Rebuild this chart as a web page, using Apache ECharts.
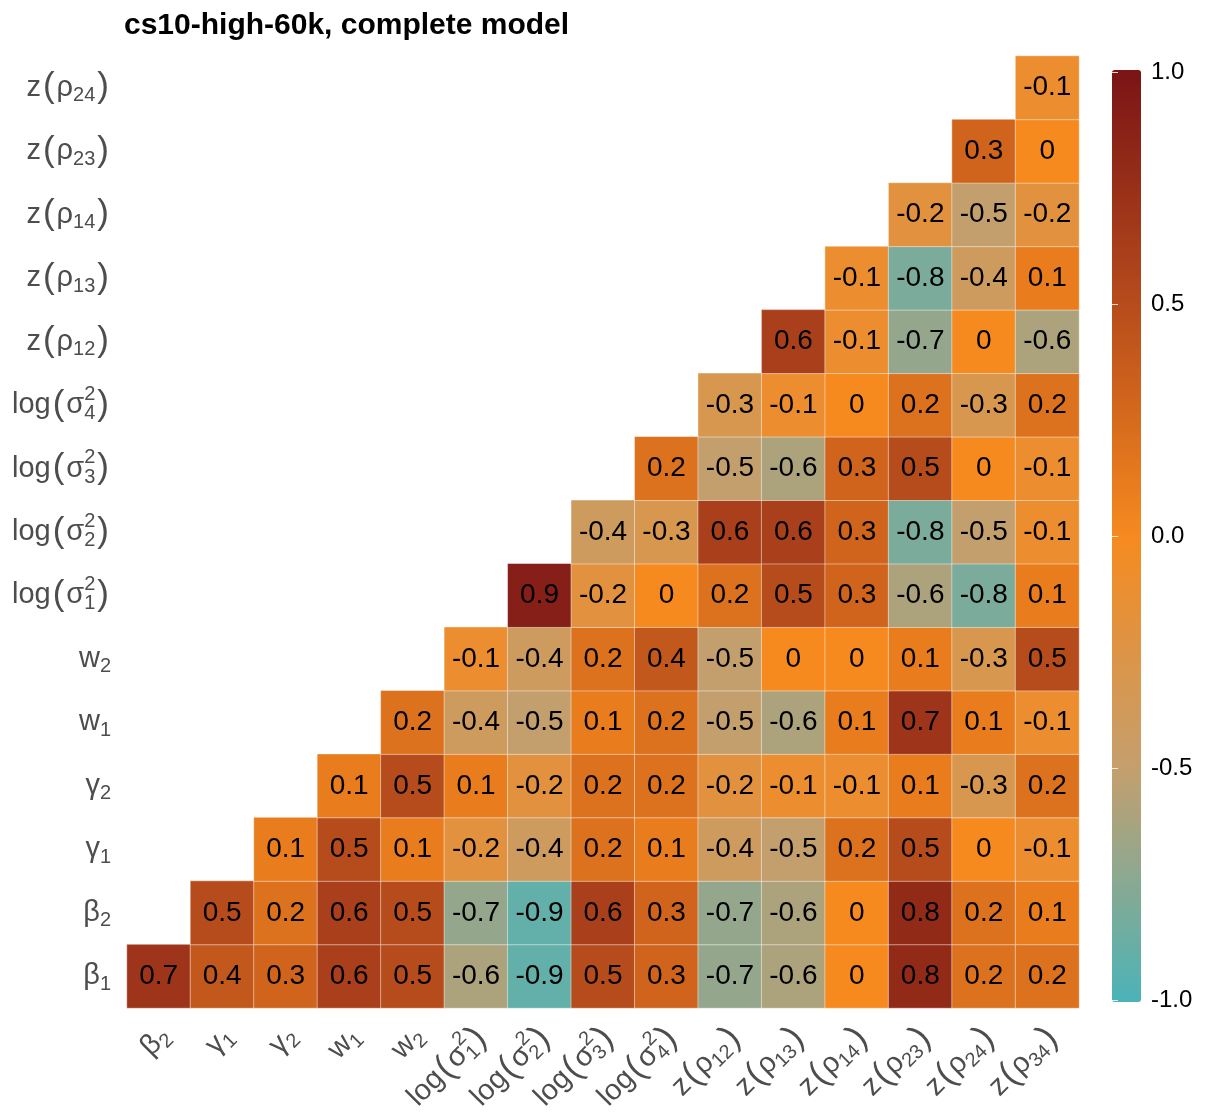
<!DOCTYPE html>
<html>
<head>
<meta charset="utf-8">
<script src="https://cdn.jsdelivr.net/npm/echarts@6/dist/echarts.min.js"></script>
<style>
  html, body { margin: 0; padding: 0; background: #fff; }
  #main { width: 1206px; height: 1118px; }
</style>
</head>
<body>
<div id="main"></div>
<script>
// columns (left to right) and rows (bottom to top)
var xCats = ['β2', 'γ1', 'γ2', 'w1', 'w2', 'log(σ1²)', 'log(σ2²)', 'log(σ3²)', 'log(σ4²)',
  'z(ρ12)', 'z(ρ13)', 'z(ρ14)', 'z(ρ23)', 'z(ρ24)', 'z(ρ34)'];
var yCats = ['β1', 'β2', 'γ1', 'γ2', 'w1', 'w2', 'log(σ1²)', 'log(σ2²)', 'log(σ3²)', 'log(σ4²)',
  'z(ρ12)', 'z(ρ13)', 'z(ρ14)', 'z(ρ23)', 'z(ρ24)'];

// correlations, one row per y category, starting at the diagonal column
var rowBeta1  = [0.7, 0.4, 0.3, 0.6, 0.5, -0.6, -0.9, 0.5, 0.3, -0.7, -0.6, 0, 0.8, 0.2, 0.2];
var rowBeta2  = [0.5, 0.2, 0.6, 0.5, -0.7, -0.9, 0.6, 0.3, -0.7, -0.6, 0, 0.8, 0.2, 0.1];
var rowGamma1 = [0.1, 0.5, 0.1, -0.2, -0.4, 0.2, 0.1, -0.4, -0.5, 0.2, 0.5, 0, -0.1];
var rowGamma2 = [0.1, 0.5, 0.1, -0.2, 0.2, 0.2, -0.2, -0.1, -0.1, 0.1, -0.3, 0.2];
var rowW1     = [0.2, -0.4, -0.5, 0.1, 0.2, -0.5, -0.6, 0.1, 0.7, 0.1, -0.1];
var rowW2     = [-0.1, -0.4, 0.2, 0.4, -0.5, 0, 0, 0.1, -0.3, 0.5];
var rowLogS1  = [0.9, -0.2, 0, 0.2, 0.5, 0.3, -0.6, -0.8, 0.1];
var rowLogS2  = [-0.4, -0.3, 0.6, 0.6, 0.3, -0.8, -0.5, -0.1];
var rowLogS3  = [0.2, -0.5, -0.6, 0.3, 0.5, 0, -0.1];
var rowLogS4  = [-0.3, -0.1, 0, 0.2, -0.3, 0.2];
var rowZ12    = [0.6, -0.1, -0.7, 0, -0.6];
var rowZ13    = [-0.1, -0.8, -0.4, 0.1];
var rowZ14    = [-0.2, -0.5, -0.2];
var rowZ23    = [0.3, 0];
var rowZ24    = [-0.1];

var rows = [rowBeta1, rowBeta2, rowGamma1, rowGamma2, rowW1, rowW2, rowLogS1, rowLogS2,
  rowLogS3, rowLogS4, rowZ12, rowZ13, rowZ14, rowZ23, rowZ24];

var cells = [];
rows.forEach(function (row, yi) {
  row.forEach(function (v, k) {
    cells.push([yi + k, yi, v]);
  });
});

// plotmath-like labels: subscripts, stacked sup/sub, big parens
function richName(name) {
  var m = name.match(/^log\(σ(\d)²\)$/);
  if (m) return 'log{p|(}σ{sup|2}{sub0|' + m[1] + '}{p|)}';
  m = name.match(/^z\(ρ(\d+)\)$/);
  if (m) return 'z{p|(}ρ{sub|' + m[1] + '}{p|)}';
  m = name.match(/^(.)(\d)$/);
  if (m) return m[1] + '{sub|' + m[2] + '}';
  return name;
}

var labelGrey = '#4d4d4d';
var richStyles = {
  p: { fontSize: 35, color: labelGrey, fontFamily: 'Liberation Sans', padding: [0, 2, 0, 2] },
  sub: { fontSize: 20, color: labelGrey, fontFamily: 'Liberation Sans', padding: [16, 0, 0, 0] },
  sub0: { fontSize: 20, color: labelGrey, fontFamily: 'Liberation Sans', padding: [17, 0, 0, -11.12] },
  sup: { fontSize: 20, color: labelGrey, fontFamily: 'Liberation Sans', padding: [0, 0, 22, 0] }
};

var chart = echarts.init(document.getElementById('main'));

var option = {
  backgroundColor: '#ffffff',
  animation: false,
  title: {
    text: 'cs10-high-60k, complete model',
    left: 119,
    top: 6,
    textStyle: { fontFamily: 'Liberation Sans', fontWeight: 'bold', fontSize: 30, color: '#000' }
  },
  grid: [
    { left: 127, top: 56, width: 952, height: 952 },
    { left: 1112, top: 72, width: 29, height: 928 }
  ],
  xAxis: [
    {
      type: 'category',
      gridIndex: 0,
      data: xCats,
      axisLine: { show: false },
      axisTick: { show: false },
      splitLine: { show: false },
      axisLabel: {
        interval: 0,
        rotate: 45,
        margin: 30,
        padding: [0, -9, 0, 0],
        fontSize: 29,
        color: labelGrey,
        fontFamily: 'Liberation Sans',
        formatter: richName,
        rich: richStyles
      }
    },
    { type: 'value', gridIndex: 1, show: false, min: 0, max: 1 }
  ],
  yAxis: [
    {
      type: 'category',
      gridIndex: 0,
      data: yCats,
      axisLine: { show: false },
      axisTick: { show: false },
      splitLine: { show: false },
      axisLabel: {
        interval: 0,
        margin: 16,
        fontSize: 29,
        color: labelGrey,
        fontFamily: 'Liberation Sans',
        formatter: richName,
        rich: richStyles
      }
    },
    {
      type: 'value',
      gridIndex: 1,
      position: 'right',
      min: -1,
      max: 1,
      interval: 0.5,
      z: 10,
      axisLine: { show: false },
      splitLine: { show: false },
      axisTick: { show: true, inside: true, length: 6, lineStyle: { color: 'rgba(255,255,255,0.8)', width: 1 } },
      axisLabel: {
        margin: 10,
        fontSize: 24,
        color: '#000',
        fontFamily: 'Liberation Sans',
        formatter: function (v) { return v.toFixed(1); }
      }
    },
    {
      type: 'value',
      gridIndex: 1,
      position: 'left',
      min: -1,
      max: 1,
      interval: 0.5,
      z: 10,
      axisLine: { show: false },
      splitLine: { show: false },
      axisTick: { show: true, inside: true, length: 6, lineStyle: { color: 'rgba(255,255,255,0.8)', width: 1 } },
      axisLabel: { show: false }
    }
  ],
  visualMap: {
    type: 'continuous',
    seriesIndex: 0,
    min: -1,
    max: 1,
    orient: 'vertical',
    left: 1112,
    top: 70,
    itemWidth: 29,
    itemHeight: 932,
    padding: 0,
    calculable: false,
    text: null,
    z: 2,
    inRange: { color: ['#4bb3b8', '#c49f6e', '#f68a1f', '#b64b1c', '#7a1416'] }
  },
  series: [
    {
      type: 'heatmap',
      xAxisIndex: 0,
      yAxisIndex: 0,
      data: cells,
      itemStyle: { borderColor: 'rgba(255,255,255,0.45)', borderWidth: 1 },
      label: {
        show: true,
        fontSize: 28,
        color: '#000',
        fontFamily: 'Liberation Sans',
        formatter: function (p) {
          var r = Math.round(p.value[2] * 10) / 10;
          return String(r === 0 ? 0 : r);
        }
      }
    }
  ]
};

chart.setOption(option);
</script>
</body>
</html>
